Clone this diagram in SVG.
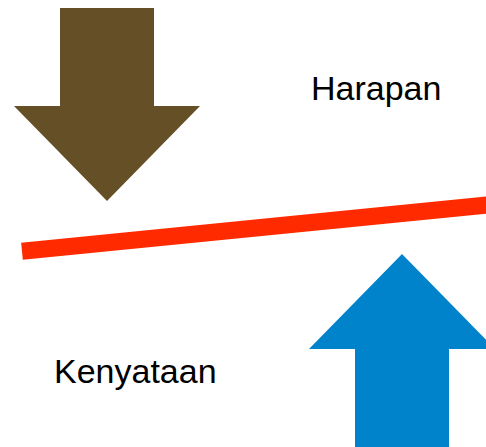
<svg xmlns="http://www.w3.org/2000/svg" width="486" height="447" viewBox="0 0 486 447">
<style>
.lbl{font-family:"Liberation Sans","Century Gothic",Arial,sans-serif;font-size:34px;fill:#000}
</style>
<rect width="486" height="447" fill="#fff"/>
<g id="arrow-down">
<polygon points="60,8 154,8 154,106 200,106 107,201 14,106 60,106" fill="#654F27"/>
</g>
<g id="arrow-up">
<polygon points="402,254 495,349 449,349 449,447 355,447 355,349 309,349" fill="#0083CA"/>
</g>
<g id="connectors">
<line x1="22" y1="251.3" x2="490" y2="204.7" stroke="#FF2A00" stroke-width="17"/>
</g>
<g id="label-harapan"><text class="lbl" x="311" y="100">Harapan</text></g>
<g id="label-kenyataan"><text class="lbl" x="54" y="383">Kenyataan</text></g>
</svg>
